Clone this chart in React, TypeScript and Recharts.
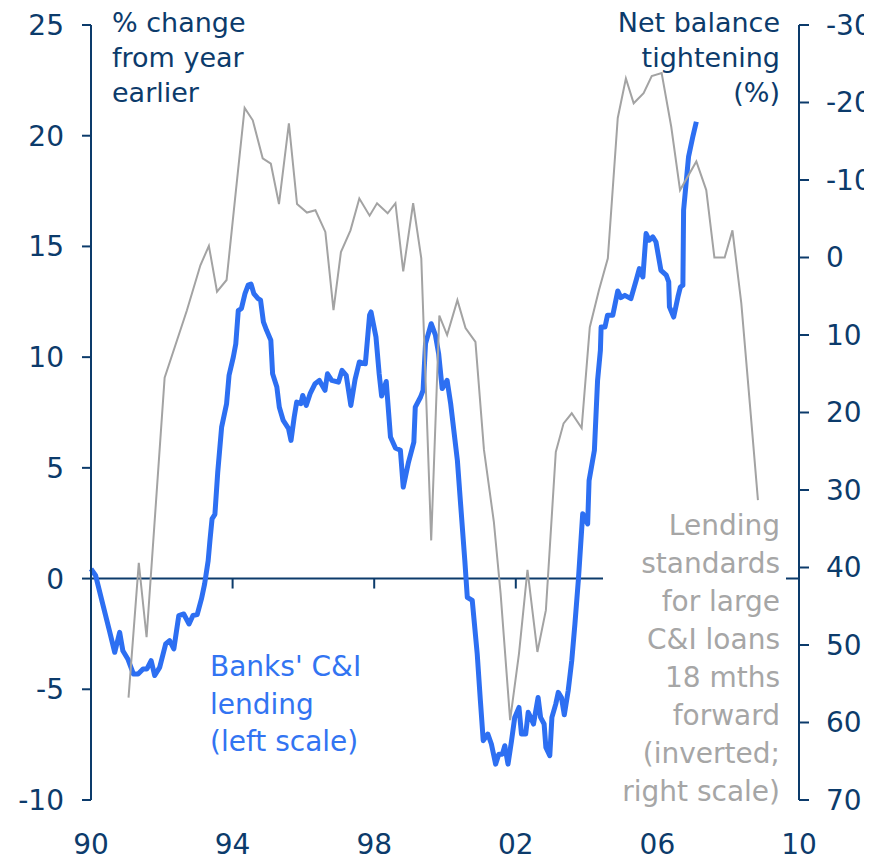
import React from 'react';
import { LineChart, Line, XAxis, YAxis, ReferenceLine } from 'recharts';

const NAVY = '#0c3b6b';
const BLUE = '#2d6ff2';
const GREY = '#a3a3a3';
const FONT = 'DejaVu Sans';

// Banks' C&I lending, % y/y (left scale)
const lendingDates = [
  1990.0, 1990.13, 1990.33, 1990.52, 1990.67, 1990.81, 1990.9, 1991.04, 1991.2, 1991.33,
  1991.47, 1991.58, 1991.7, 1991.8, 1991.94, 1992.11, 1992.22, 1992.34, 1992.48, 1992.62,
  1992.77, 1992.88, 1993.0, 1993.12, 1993.21, 1993.31, 1993.36, 1993.42, 1993.5, 1993.58,
  1993.69, 1993.83, 1993.9, 1994.02, 1994.09, 1994.16, 1994.25, 1994.35, 1994.44, 1994.52,
  1994.6, 1994.72, 1994.79, 1994.87, 1994.96, 1995.08, 1995.13, 1995.25, 1995.32, 1995.43,
  1995.58, 1995.65, 1995.74, 1995.81, 1995.93, 1995.98, 1996.08, 1996.19, 1996.33, 1996.45,
  1996.61, 1996.68, 1996.8, 1996.99, 1997.09, 1997.21, 1997.34, 1997.46, 1997.58, 1997.75,
  1997.87, 1997.91, 1998.05, 1998.14, 1998.21, 1998.34, 1998.46, 1998.6, 1998.74, 1998.82,
  1998.97, 1999.12, 1999.16, 1999.31, 1999.38, 1999.45, 1999.61, 1999.73, 1999.82, 1999.92,
  2000.06, 2000.16, 2000.35, 2000.44, 2000.56, 2000.63, 2000.77, 2000.91, 2001.0, 2001.08,
  2001.21, 2001.31, 2001.43, 2001.52, 2001.62, 2001.69, 2001.78, 2001.88, 2001.97, 2002.09,
  2002.16, 2002.28, 2002.35, 2002.42, 2002.5, 2002.63, 2002.7, 2002.8, 2002.85, 2002.96,
  2003.02, 2003.13, 2003.2, 2003.29, 2003.37, 2003.48, 2003.58, 2003.67, 2003.77, 2003.89,
  2004.03, 2004.07, 2004.22, 2004.31, 2004.39, 2004.41, 2004.52, 2004.59, 2004.74, 2004.88,
  2004.97, 2005.08, 2005.25, 2005.4, 2005.49, 2005.59, 2005.68, 2005.77, 2005.87, 2005.96,
  2006.1, 2006.25, 2006.32, 2006.34, 2006.46, 2006.58, 2006.65, 2006.72, 2006.74, 2006.81,
  2006.88, 2007.0, 2007.1,
];
const lendingValues = [
  0.44, 0.14, -1.14, -2.35, -3.33, -2.43, -3.26, -3.63, -4.31, -4.31,
  -4.08, -4.08, -3.71, -4.38, -4.01, -2.95, -2.8, -3.18, -1.67, -1.6,
  -2.05, -1.67, -1.63, -0.92, -0.24, 0.81, 1.72, 2.7, 2.9, 4.8,
  6.84, 7.9, 9.18, 10.0, 10.6, 12.1, 12.2, 12.87, 13.25, 13.3,
  12.87, 12.64, 12.57, 11.59, 11.21, 10.76, 9.25, 8.65, 7.74, 7.14,
  6.77, 6.24, 7.29, 7.97, 7.9, 8.27, 7.82, 8.35, 8.8, 8.95,
  8.5, 9.25, 8.95, 8.87, 9.4, 9.18, 7.82, 9.0, 9.78, 9.7,
  11.9, 12.04, 10.91, 9.25, 8.25, 8.9, 6.39, 5.9, 5.79, 4.13,
  5.26, 6.16, 7.74, 8.2, 8.5, 10.61, 11.51, 10.99, 10.16, 8.58,
  8.95, 7.9, 5.33, 3.38, 0.81, -0.85, -0.99, -3.4, -5.52, -7.32,
  -7.02, -7.47, -8.38, -7.93, -7.93, -7.55, -8.38, -7.32, -6.27, -5.82,
  -7.02, -7.02, -6.04, -6.27, -6.57, -5.37, -6.27, -6.57, -7.63, -8.0,
  -6.27, -5.66, -5.14, -5.37, -6.15, -5.06, -3.71, -2.05, 0.0, 2.93,
  2.47, 4.43, 5.79, 8.95, 10.31, 11.36, 11.36, 11.89, 11.89, 12.99,
  12.69, 12.79, 12.64, 13.47, 14.0, 13.62, 15.58, 15.28, 15.43, 15.2,
  13.92, 13.7, 13.4, 12.27, 11.81, 12.72, 13.17, 13.25, 16.64, 17.84,
  19.05, 19.95, 20.63,
];

// Lending standards for large C&I loans, 18 mths forward (inverted, right scale)
const standardsDates = [
  1991.06, 1991.35, 1991.57, 1992.08, 1992.71, 1993.09, 1993.33, 1993.56, 1993.83, 1994.07,
  1994.34, 1994.57, 1994.85, 1995.08, 1995.31, 1995.59, 1995.82, 1996.1, 1996.34, 1996.62,
  1996.85, 1997.06, 1997.33, 1997.58, 1997.87, 1998.08, 1998.38, 1998.6, 1998.82, 1999.1,
  1999.33, 1999.61, 1999.84, 2000.06, 2000.35, 2000.58, 2000.86, 2001.1, 2001.38, 2001.57,
  2001.84, 2002.09, 2002.33, 2002.61, 2002.85, 2003.13, 2003.35, 2003.58, 2003.86, 2004.09,
  2004.35, 2004.6, 2004.88, 2005.11, 2005.33, 2005.61, 2005.84, 2006.12, 2006.39, 2006.64,
  2007.1, 2007.38, 2007.61, 2007.9, 2008.12, 2008.37, 2008.61, 2008.84,
];
const standardsValues = [
  56.8, 39.4, 49.0, 15.5, 6.8, 1.0, -1.5, 4.4, 2.9, -7.6,
  -19.3, -17.7, -12.8, -12.1, -6.9, -17.3, -6.9, -5.8, -6.1, -3.3,
  6.8, -0.7, -3.5, -7.6, -5.4, -7.0, -5.7, -7.0, 1.8, -7.0,
  0.1, 36.5, 7.5, 10.0, 5.5, 9.1, 10.9, 24.8, 34.1, 43.3,
  59.7, 51.1, 40.3, 50.9, 45.5, 25.1, 21.4, 20.1, 22.0, 9.0,
  4.2, 0.1, -18.0, -23.1, -19.9, -21.2, -23.4, -23.8, -16.9, -8.7,
  -12.4, -8.7, 0.0, 0.0, -3.5, 5.9, 18.8, 31.3,
];

const xTicks = [1990, 1994, 1998, 2002, 2006, 2010];
const xTickLabels = ['90', '94', '98', '02', '06', '10'];
const leftTicks = [-10, -5, 0, 5, 10, 15, 20, 25];
const rightTicks = [-30, -20, -10, 0, 10, 20, 30, 40, 50, 60, 70];

const leftNote = ['% change', 'from year', 'earlier'];
const rightNote = ['Net balance', 'tightening', '(%)'];
const blueNote = ["Banks' C&I", 'lending', '(left scale)'];
const greyNote = ['Lending', 'standards', 'for large', 'C&I loans', '18 mths', 'forward', '(inverted;', 'right scale)'];

const lendingData = lendingDates.map((d, i) => ({ year: d, value: lendingValues[i] }));
const standardsData = standardsDates.map((d, i) => ({ year: d, value: standardsValues[i] }));

const tickStyle = { fill: NAVY, fontSize: 28, fontFamily: FONT };

export default function App() {
  return (
    <div style={{ position: 'relative', width: 864, height: 858 }}>
      <style>{'body{overflow:hidden}'}</style>
      <LineChart width={864} height={858} margin={{ top: 17, right: 13, bottom: 26, left: 23 }}>
        <XAxis
          type="number"
          dataKey="year"
          domain={[1990, 2010]}
          ticks={xTicks}
          interval={0}
          tickFormatter={(v: number) => xTickLabels[xTicks.indexOf(v)] ?? ''}
          axisLine={false}
          tickLine={false}
          tickSize={0}
          tickMargin={34}
          height={40}
          tick={tickStyle}
        />
        <YAxis
          yAxisId="left"
          domain={[-10, 25]}
          ticks={leftTicks}
          interval={0}
          width={60}
          axisLine={{ stroke: NAVY, strokeWidth: 2 }}
          tickLine={{ stroke: NAVY, strokeWidth: 2 }}
          tickSize={9}
          tickMargin={18}
          tick={tickStyle}
        />
        <YAxis
          yAxisId="right"
          orientation="right"
          reversed
          domain={[-30, 70]}
          ticks={rightTicks}
          interval={0}
          width={60}
          axisLine={{ stroke: NAVY, strokeWidth: 2 }}
          tickLine={{ stroke: NAVY, strokeWidth: 2 }}
          tickSize={10}
          tickMargin={17}
          tick={tickStyle}
        />
        <ReferenceLine yAxisId="left" y={0} stroke={NAVY} strokeWidth={2} />
        {xTicks.slice(1, -1).map((t) => (
          <ReferenceLine
            key={t}
            yAxisId="left"
            segment={[{ x: t, y: 0 }, { x: t, y: -0.45 }]}
            stroke={NAVY}
            strokeWidth={2}
          />
        ))}
        <Line
          yAxisId="left"
          data={lendingData}
          dataKey="value"
          type="linear"
          stroke={BLUE}
          strokeWidth={5}
          strokeLinejoin="round"
          dot={false}
          activeDot={false}
          isAnimationActive={false}
        />
        <Line
          yAxisId="right"
          data={standardsData}
          dataKey="value"
          type="linear"
          stroke={GREY}
          strokeWidth={2}
          dot={false}
          activeDot={false}
          isAnimationActive={false}
        />
      </LineChart>
      <svg
        width={864}
        height={858}
        style={{ position: 'absolute', left: 0, top: 0, pointerEvents: 'none' }}
      >
        <rect x={595} y={502} width={183} height={308} fill="#ffffff" />
        {leftNote.map((s, i) => (
          <text key={s} x={104} y={24 + i * 35} fontSize={27} fontFamily={FONT} fill={NAVY}>{s}</text>
        ))}
        {rightNote.map((s, i) => (
          <text key={s} x={772} y={24 + i * 35} fontSize={27} fontFamily={FONT} fill={NAVY} textAnchor="end">{s}</text>
        ))}
        {blueNote.map((s, i) => (
          <text key={s} x={202} y={668 + i * 37.5} fontSize={28} fontFamily={FONT} fill="#3274f2">{s}</text>
        ))}
        {greyNote.map((s, i) => (
          <text key={s} x={772} y={527 + i * 38} fontSize={28} fontFamily={FONT} fill="#a6a6a6" textAnchor="end">{s}</text>
        ))}
      </svg>
    </div>
  );
}
